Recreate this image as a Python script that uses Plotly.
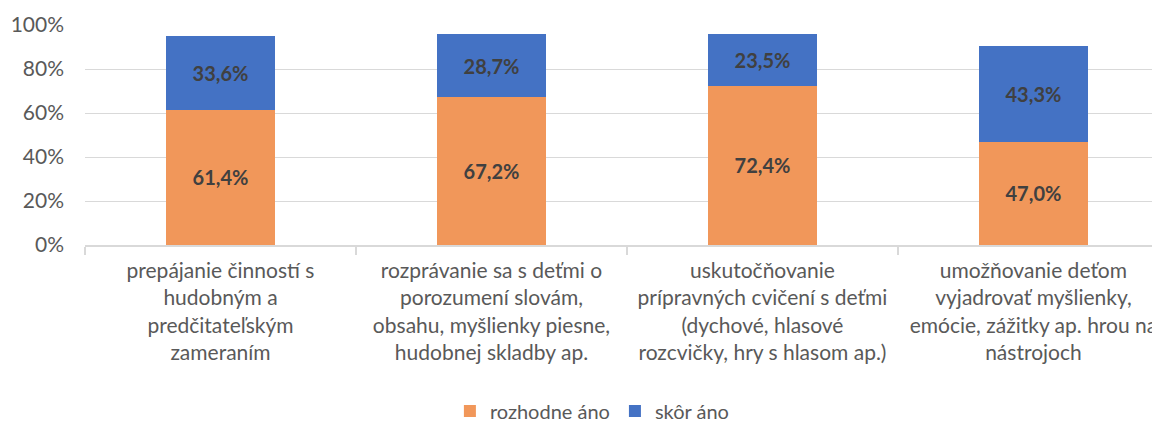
import plotly.graph_objects as go

categories = [
    "prepájanie činností s<br>hudobným a<br>predčitateľským<br>zameraním",
    "rozprávanie sa s deťmi o<br>porozumení slovám,<br>obsahu, myšlienky piesne,<br>hudobnej skladby ap.",
    "uskutočňovanie<br>prípravných cvičení s deťmi<br>(dychové, hlasové<br>rozcvičky, hry s hlasom ap.)",
    "umožňovanie deťom<br>vyjadrovať myšlienky,<br>emócie, zážitky ap. hrou na<br>nástrojoch",
]
rozhodne_ano = [61.4, 67.2, 72.4, 47.0]
skor_ano = [33.6, 28.7, 23.5, 43.3]

font_family = "Lato, 'Open Sans', sans-serif"
label_font = dict(size=20, color="#404040", family=font_family, weight="bold")

fig = go.Figure()
fig.add_trace(go.Bar(
    x=categories, y=rozhodne_ano, name="rozhodne áno",
    marker=dict(color="#F1975A", line=dict(width=0)),
    texttemplate="%{y:.1f}%", textposition="inside", insidetextanchor="middle",
    textfont=label_font,
))
fig.add_trace(go.Bar(
    x=categories, y=skor_ano, name="skôr áno",
    marker=dict(color="#4472C4", line=dict(width=0)),
    texttemplate="%{y:.1f}%", textposition="inside", insidetextanchor="middle",
    textfont=label_font,
))

# page has an 8px body margin, so the figure is shrunk and shifted to fit the window
fig.update_layout(
    barmode="stack",
    bargap=0.6,
    width=1152, height=417,
    margin=dict(l=77, r=0, t=17, b=180, autoexpand=False),
    plot_bgcolor="white", paper_bgcolor="white",
    separators=", ",
    font=dict(family=font_family, size=21, color="#595959"),
    uniformtext=dict(mode="show", minsize=10),
    legend=dict(
        orientation="h", traceorder="normal",
        x=0.472, xanchor="center",
        y=-0.755, yanchor="middle",
        font=dict(size=20, color="#595959"),
        itemwidth=30,
    ),
    showlegend=True,
)
fig.update_yaxes(
    range=[0, 100], dtick=20, ticksuffix="%",
    showgrid=True, gridcolor="#D9D9D9", gridwidth=1.2,
    zeroline=False, showline=False, ticks="",
    automargin=False, ticklabelstandoff=20,
    tickfont=dict(size=21, color="#595959"),
)
fig.update_xaxes(
    range=[-0.5, 3.467],
    showline=True, linecolor="#D9D9D9", linewidth=1.5,
    ticks="outside", tickson="boundaries", ticklen=8, tickcolor="#D9D9D9", tickwidth=1.5,
    tickangle=0, automargin=False, ticklabelstandoff=6,
    tickfont=dict(size=21, color="#595959"),
)

fig.write_html("out.html")
